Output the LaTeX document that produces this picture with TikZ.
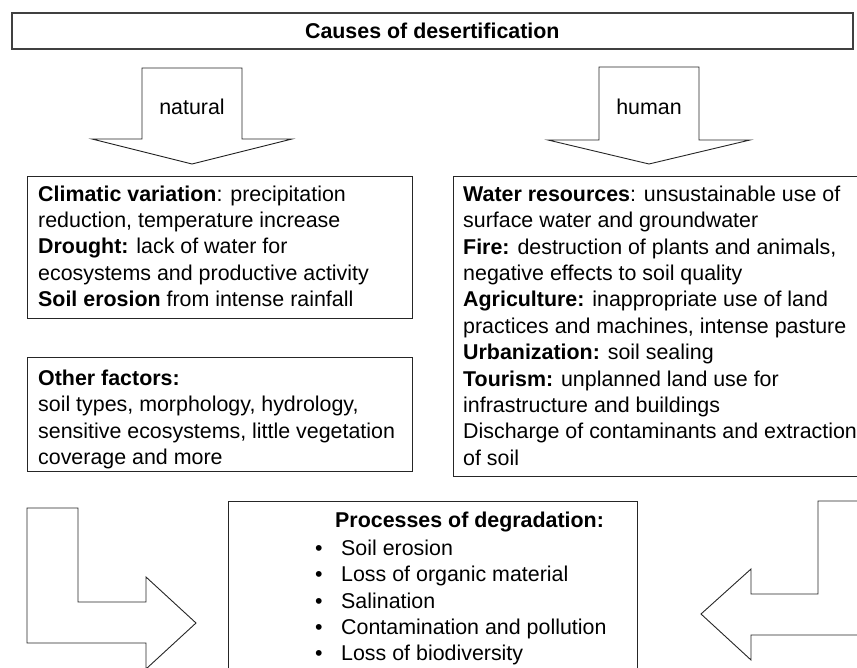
\documentclass[tikz,border=0pt]{standalone}
\usepackage{fontspec}
\setmainfont{Liberation Sans}
\newcommand{\firstln}{\rule{0pt}{16pt}}
\begin{document}
\begin{tikzpicture}[x=1pt,y=-1pt,
  frame/.style={draw=black!85, line width=0.9pt},
  titlebox/.style={draw=black!75, line width=1.6pt},
  blockarrow/.style={draw=black!85, line width=0.9pt, line join=miter, fill=white},
  txt/.style={font=\fontsize{21.4}{26.4}\selectfont, align=left, inner sep=0pt, anchor=north west},
  lbl/.style={font=\fontsize{21.4}{26.4}\selectfont, inner sep=0pt}
]
\useasboundingbox (0,0) rectangle (857,668);
\clip (0,0) rectangle (857,668);

% title
\node[titlebox, minimum width=841pt, minimum height=36pt, anchor=north west, inner sep=0pt,
      font=\fontsize{21.4}{26.4}\selectfont\bfseries] (title) at (11,12) {Causes of desertification};

% down arrows
\draw[blockarrow] (142,68) -- (242,68) -- (242,139) -- (292,139) -- (192,164) -- (92,139) -- (142,139) -- cycle;
\node[lbl] (natural) at (192,107) {natural};
\draw[blockarrow] (599,67) -- (699,67) -- (699,140) -- (750,140) -- (649,164) -- (548,140) -- (599,140) -- cycle;
\node[lbl] (human) at (649,107) {human};

% boxes
\node[frame, minimum width=385pt, minimum height=142pt, anchor=north west, inner sep=0pt] (clim) at (27,176) {};
\node[frame, minimum width=385pt, minimum height=114pt, anchor=north west, inner sep=0pt] (other) at (27,357) {};
\node[frame, minimum width=420pt, minimum height=300pt, anchor=north west, inner sep=0pt] (hum) at (453,176) {};
\node[frame, minimum width=409pt, minimum height=190pt, anchor=north west, inner sep=0pt] (proc) at (228,501) {};

\node[txt] (climtxt) at (38,185) {\firstln\textbf{Climatic variation}: precipitation\\
reduction, temperature increase\\
\textbf{Drought:} lack of water for\\
ecosystems and productive activity\\
\textbf{Soil erosion} from intense rainfall};

\node[txt] (othertxt) at (38,369) {\firstln\textbf{Other factors:}\\
soil types, morphology, hydrology,\\
sensitive ecosystems, little vegetation\\
coverage and more};

\node[txt] (humtxt) at (463,185) {\firstln\textbf{Water resources}: unsustainable use of\\
surface water and groundwater\\
\textbf{Fire:} destruction of plants and animals,\\
negative effects to soil quality\\
\textbf{Agriculture:} inappropriate use of land\\
practices and machines, intense pasture\\
\textbf{Urbanization:} soil sealing\\
\textbf{Tourism:} unplanned land use for\\
infrastructure and buildings\\
Discharge of contaminants and extraction\\
of soil};

\node[lbl, anchor=base west] (proctitle) at (335,527) {\textbf{Processes of degradation:}};
\node[txt] (proclist) at (315,539) {\firstln\makebox[26pt][l]{\textbullet}Soil erosion\\
\makebox[26pt][l]{\textbullet}Loss of organic material\\
\makebox[26pt][l]{\textbullet}Salination\\
\makebox[26pt][l]{\textbullet}Contamination and pollution\\
\makebox[26pt][l]{\textbullet}Loss of biodiversity};

% L arrows
\draw[blockarrow] (27,508) -- (78,508) -- (78,602) -- (146,602) -- (146,577) -- (196,623) -- (146,669) -- (146,643) -- (27,643) -- cycle;
\draw[blockarrow] (870,501) -- (818,501) -- (818,594) -- (751,594) -- (751,569) -- (701,614) -- (751,660) -- (751,635) -- (870,635);
\end{tikzpicture}
\end{document}
